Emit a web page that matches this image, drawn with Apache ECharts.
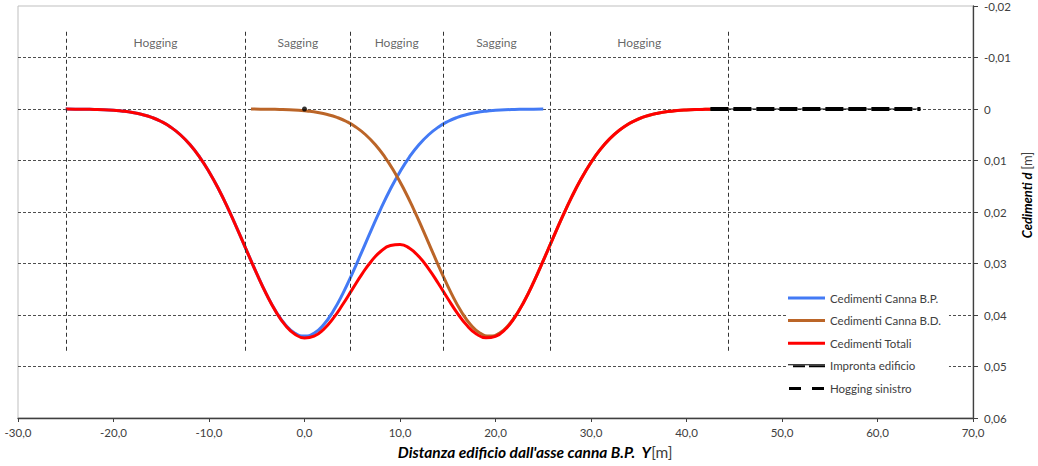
<!DOCTYPE html>
<html>
<head>
<meta charset="utf-8">
<script src="https://cdn.jsdelivr.net/npm/echarts@6/dist/echarts.min.js"></script>
<style>
  html, body { margin: 0; padding: 0; background: #ffffff; }
  #chart { width: 1038px; height: 466px; }
</style>
</head>
<body>
<div id="chart"></div>
<script>
// Distance from the B.P. tunnel axis [m] and settlements [m]
const distBP = [-25,-24,-23,-22,-21,-20,-19,-18,-17,-16,-15,-14,-13,-12,-11,-10,-9,-8,-7,-6,-5,-4,-3,-2,-1,0,
  1,2,3,4,5,6,7,8,9,10,11,12,13,14,15,16,17,18,19,20,21,22,23,24,25];
const cedBP = [0.00001,0.00003,0.00005,0.00009,0.00015,0.00026,0.00042,0.00068,0.00107,0.00163,0.00243,0.00353,0.00500,
  0.00690,0.00928,0.01217,0.01554,0.01934,0.02347,0.02774,0.03196,0.03589,0.03927,0.04189,0.04354,0.04410,
  0.04354,0.04189,0.03927,0.03589,0.03196,0.02774,0.02347,0.01934,0.01554,0.01217,0.00928,0.00690,0.00500,
  0.00353,0.00243,0.00163,0.00107,0.00068,0.00042,0.00026,0.00015,0.00009,0.00005,0.00003,0.00001];

const distBD = [-5.6,-4.6,-3.6,-2.6,-1.6,-0.6,0.4,1.4,2.4,3.4,4.4,5.4,6.4,7.4,8.4,9.4,10.4,11.4,12.4,13.4,14.4,
  15.4,16.4,17.4,18.4,19.4,20.4,21.4,22.4,23.4,24.4,25.4,26.4,27.4,28.4,29.4,30.4,31.4,32.4,33.4,34.4,35.4,
  36.4,37.4,38.4,39.4,40.4,41.4,42.4,43.4,44.4];
const cedBD = [0.00001,0.00003,0.00005,0.00009,0.00015,0.00026,0.00042,0.00068,0.00107,0.00163,0.00243,0.00353,0.00500,
  0.00690,0.00928,0.01217,0.01554,0.01934,0.02347,0.02774,0.03196,0.03589,0.03927,0.04189,0.04354,0.04410,
  0.04354,0.04189,0.03927,0.03589,0.03196,0.02774,0.02347,0.01934,0.01554,0.01217,0.00928,0.00690,0.00500,
  0.00353,0.00243,0.00163,0.00107,0.00068,0.00042,0.00026,0.00015,0.00009,0.00005,0.00003,0.00001];

const distTot = [-25,-24,-23,-22,-21,-20,-19,-18,-17,-16,-15,-14,-13,-12,-11,-10,-9,-8,-7,-6,-5,-4,-3,-2,-1,0,
  1,2,3,4,5,6,7,8,9,10,11,12,13,14,15,16,17,18,19,20,21,22,23,24,25,26,27,28,29,30,31,32,33,34,35,36,37,38,
  39,40,41,42,42.5];
const cedTot = [0.00001,0.00003,0.00005,0.00009,0.00015,0.00026,0.00042,0.00068,0.00107,0.00163,0.00243,0.00353,0.00500,
  0.00690,0.00929,0.01217,0.01554,0.01935,0.02347,0.02775,0.03198,0.03593,0.03934,0.04201,0.04374,0.04445,
  0.04410,0.04278,0.04066,0.03797,0.03502,0.03211,0.02955,0.02762,0.02650,0.02630,0.02706,0.02869,0.03103,
  0.03383,0.03680,0.03963,0.04201,0.04368,0.04443,0.04415,0.04282,0.04051,0.03737,0.03361,0.02946,0.02517,
  0.02097,0.01702,0.01346,0.01038,0.00780,0.00571,0.00407,0.00283,0.00192,0.00127,0.00082,0.00051,0.00031,
  0.00019,0.00011,0.00006,0.00004];

// Building footprint and left hogging stretch
const distEdificio = [42.5, 64.5];
const cedEdificio = [0, 0];
const distHoggingSx = [42.5, 64.5];
const cedHoggingSx = [0, 0];

// Tunnel axis point
const assePoint = [0, 0];

// Hogging / sagging zones
const zoneBounds = [-24.9, -6.2, 4.8, 14.5, 25.7, 44.4];
const zoneTop = -0.015;
const zoneBottom = 0.047;
const zoneNames = ['Hogging', 'Sagging', 'Hogging', 'Sagging', 'Hogging'];
const zoneLabelX = [-15.6, -0.7, 9.65, 20.1, 35.05];
const zoneLabelY = -0.013;

const FONT = 'Lato, "DejaVu Sans", sans-serif';
const zip = (xs, ys) => xs.map((x, i) => [x, ys[i]]);

const chart = echarts.init(document.getElementById('chart'), null, { renderer: 'svg' });

const option = {
  animation: false,
  backgroundColor: '#ffffff',
  textStyle: { fontFamily: FONT },
  grid: {
    left: 18, right: 65, top: 6, bottom: 48,
    show: true, borderColor: '#bfbfbf', borderWidth: 1
  },
  legend: {
    orient: 'vertical',
    left: 786, top: 286, padding: [6, 8, 6, 2],
    backgroundColor: '#ffffff',
    itemWidth: 37, itemHeight: 3, itemGap: 10.6,
    symbolKeepAspect: true,
    textStyle: { fontFamily: FONT, fontSize: 11.5, color: '#404040' },
    data: [
      { name: 'Cedimenti Canna B.P.', icon: 'rect' },
      { name: 'Cedimenti Canna B.D.', icon: 'rect' },
      { name: 'Cedimenti Totali', icon: 'rect' },
      { name: 'Impronta edificio', icon: 'path://M0,0h37v0.9h-37z M5,1.3h12v1.7h-12z M21,1.3h16v1.7h-16z' },
      { name: 'Hogging sinistro', icon: 'path://M0,0h12v3h-12z M23,0h12v3h-12z' }
    ]
  },
  xAxis: {
    type: 'value', min: -30, max: 70, interval: 10,
    axisLine: { show: true, onZero: false, lineStyle: { color: '#404040', width: 1.3 } },
    axisTick: { show: true, length: 4, lineStyle: { color: '#404040' } },
    axisLabel: {
      fontFamily: FONT, fontSize: 11.5, color: '#404040', margin: 8,
      formatter: v => v.toFixed(1).replace('.', ',')
    },
    splitLine: { show: false }
  },
  yAxis: {
    type: 'value', position: 'right', inverse: true,
    min: -0.02, max: 0.06, interval: 0.01,
    axisLine: { show: true, onZero: false, lineStyle: { color: '#404040', width: 1.3 } },
    axisTick: { show: true, length: 5, lineStyle: { color: '#404040' } },
    axisLabel: {
      fontFamily: FONT, fontSize: 11.5, color: '#404040', margin: 11,
      formatter: v => Math.abs(v) < 1e-9 ? '0' : v.toFixed(2).replace('.', ',')
    },
    splitLine: {
      show: true, showMinLine: false, showMaxLine: false,
      lineStyle: { color: '#222222', width: 0.8, type: [3, 2] }
    }
  },
  graphic: [
    {
      type: 'text', x: 535, y: 452,
      style: {
        text: '{b|Distanza edificio dall\'asse canna B.P.  Y}{n|[m]}',
        align: 'center', verticalAlign: 'middle',
        rich: {
          b: { fontFamily: FONT, fontSize: 15.5, fontWeight: 'bold', fontStyle: 'italic', fill: '#000000' },
          n: { fontFamily: FONT, fontSize: 15.5, fill: '#404040' }
        }
      }
    },
    {
      type: 'text', x: 1027, y: 195, rotation: Math.PI / 2,
      style: {
        text: '{b|Cedimenti d }{n|[m]}',
        align: 'center', verticalAlign: 'middle',
        rich: {
          b: { fontFamily: FONT, fontSize: 13, fontWeight: 'bold', fontStyle: 'italic', fill: '#000000' },
          n: { fontFamily: FONT, fontSize: 13, fill: '#404040' }
        }
      }
    }
  ],
  series: [
    {
      name: 'Zone', type: 'line', data: [], silent: true,
      markLine: {
        silent: true, symbol: ['none', 'none'], label: { show: false },
        lineStyle: { color: '#333333', width: 1, type: [4, 3] },
        data: zoneBounds.map(x => [{ coord: [x, zoneTop] }, { coord: [x, zoneBottom] }])
      }
    },
    {
      name: 'Zone label', type: 'scatter', symbolSize: 0, silent: true,
      data: zoneNames.map((n, i) => ({ name: n, value: [zoneLabelX[i], zoneLabelY] })),
      label: { show: true, position: 'inside', formatter: '{b}', fontFamily: FONT, fontSize: 12, color: '#404040' }
    },
    {
      name: 'Cedimenti Canna B.P.', type: 'line', smooth: true, symbol: 'none',
      lineStyle: { color: '#437af5', width: 3 }, itemStyle: { color: '#437af5' },
      data: zip(distBP, cedBP)
    },
    {
      name: 'Cedimenti Canna B.D.', type: 'line', smooth: true, symbol: 'none',
      lineStyle: { color: '#bb6528', width: 3 }, itemStyle: { color: '#bb6528' },
      data: zip(distBD, cedBD)
    },
    {
      name: 'Cedimenti Totali', type: 'line', smooth: true, symbol: 'none',
      lineStyle: { color: '#ff0000', width: 3 }, itemStyle: { color: '#ff0000' },
      data: zip(distTot, cedTot)
    },
    {
      name: 'Impronta edificio', type: 'line', symbol: 'none',
      lineStyle: { color: '#000000', width: 1.2 }, itemStyle: { color: '#000000' },
      data: zip(distEdificio, cedEdificio), z: 3
    },
    {
      name: 'Hogging sinistro', type: 'line', symbol: 'none',
      lineStyle: { color: '#000000', width: 4, type: [18, 5] }, itemStyle: { color: '#000000' },
      data: zip(distHoggingSx, cedHoggingSx), z: 4
    },
    {
      name: 'Asse canna', type: 'scatter', symbol: 'circle', symbolSize: 5,
      itemStyle: { color: '#000000' }, data: [assePoint], z: 5
    }
  ]
};

chart.setOption(option);
</script>
</body>
</html>
